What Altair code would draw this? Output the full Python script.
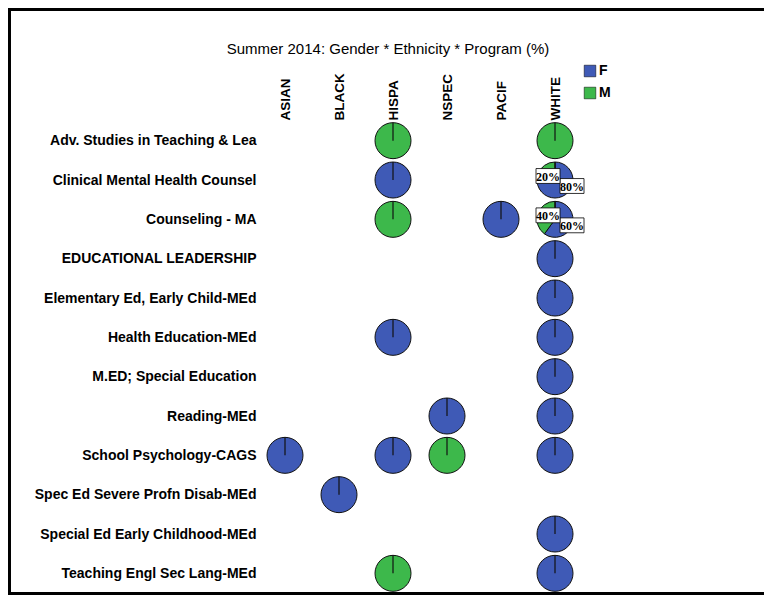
import altair as alt
import pandas as pd

programs = [
    "Adv. Studies in Teaching & Lea",
    "Clinical Mental Health Counsel",
    "Counseling - MA",
    "EDUCATIONAL LEADERSHIP",
    "Elementary Ed, Early Child-MEd",
    "Health Education-MEd",
    "M.ED; Special Education",
    "Reading-MEd",
    "School Psychology-CAGS",
    "Spec Ed Severe Profn Disab-MEd",
    "Special Ed Early Childhood-MEd",
    "Teaching Engl Sec Lang-MEd",
]
ethnicities = ["ASIAN", "BLACK", "HISPA", "NSPEC", "PACIF", "WHITE"]
genders = ["F", "M"]
gender_colors = ["#3F5AB6", "#3DB84B"]

# one entry per pie slice: program, ethnicity, gender, percent
cell_program = [
    "Adv. Studies in Teaching & Lea", "Adv. Studies in Teaching & Lea",
    "Clinical Mental Health Counsel", "Clinical Mental Health Counsel", "Clinical Mental Health Counsel",
    "Counseling - MA", "Counseling - MA", "Counseling - MA", "Counseling - MA",
    "EDUCATIONAL LEADERSHIP",
    "Elementary Ed, Early Child-MEd",
    "Health Education-MEd", "Health Education-MEd",
    "M.ED; Special Education",
    "Reading-MEd", "Reading-MEd",
    "School Psychology-CAGS", "School Psychology-CAGS", "School Psychology-CAGS", "School Psychology-CAGS",
    "Spec Ed Severe Profn Disab-MEd",
    "Special Ed Early Childhood-MEd",
    "Teaching Engl Sec Lang-MEd", "Teaching Engl Sec Lang-MEd",
]
cell_ethnicity = [
    "HISPA", "WHITE",
    "HISPA", "WHITE", "WHITE",
    "HISPA", "PACIF", "WHITE", "WHITE",
    "WHITE",
    "WHITE",
    "HISPA", "WHITE",
    "WHITE",
    "NSPEC", "WHITE",
    "ASIAN", "HISPA", "NSPEC", "WHITE",
    "BLACK",
    "WHITE",
    "HISPA", "WHITE",
]
cell_gender = [
    "M", "M",
    "F", "F", "M",
    "M", "F", "F", "M",
    "F",
    "F",
    "F", "F",
    "F",
    "F", "F",
    "F", "F", "M", "F",
    "F",
    "F",
    "M", "F",
]
cell_pct = [
    100, 100,
    100, 80, 20,
    100, 100, 60, 40,
    100,
    100,
    100, 100,
    100,
    100, 100,
    100, 100, 100, 100,
    100,
    100,
    100, 100,
]

df = pd.DataFrame({
    "program": cell_program,
    "ethnicity": cell_ethnicity,
    "gender": cell_gender,
    "pct": cell_pct,
})

W, H = 324, 472
FONT = "Liberation Sans"

x_enc = alt.X("ethnicity:N", sort=ethnicities, scale=alt.Scale(domain=ethnicities),
              axis=alt.Axis(orient="top", labelAngle=-90, title=None, domain=False, ticks=False,
                            labelFont=FONT, labelFontSize=13.5, labelFontWeight="bold",
                            labelColor="black", labelPadding=1))
y_enc = alt.Y("program:N", sort=programs, scale=alt.Scale(domain=programs),
              axis=alt.Axis(title=None, domain=False, ticks=False, labelFont=FONT,
                            labelFontSize=14, labelFontWeight="bold", labelColor="black",
                            labelPadding=2, labelLimit=400))

base = alt.Chart(df).transform_joinaggregate(
    total="sum(pct)", groupby=["program", "ethnicity"]
).transform_window(
    cum="sum(pct)", sort=[alt.SortField("gender", order="ascending")],
    groupby=["program", "ethnicity"], frame=[None, 0]
).transform_calculate(
    t0="2*PI*(datum.cum - datum.pct)/datum.total",
    t1="2*PI*datum.cum/datum.total",
    label="datum.pct + '%'",
)

pies = base.mark_arc(radius=18, stroke="#111111", strokeWidth=1).encode(
    x=x_enc, y=y_enc,
    theta=alt.Theta("t0:Q", scale=None),
    theta2=alt.Theta2("t1:Q"),
    color=alt.Color("gender:N", scale=alt.Scale(domain=genders, range=gender_colors),
                    legend=alt.Legend(title=None, orient="none", legendX=325, legendY=-57,
                                      symbolType="square", symbolSize=135,
                                      symbolStrokeColor="black", symbolStrokeWidth=0.5,
                                      symbolOpacity=1,
                                      labelFont=FONT, labelFontSize=14, labelFontWeight="bold",
                                      labelColor="black", rowPadding=8, labelOffset=2)),
)

# radial start line at 12 o'clock
start_line = base.transform_filter("datum.cum - datum.pct == 0").mark_point(
    shape="M0,-1L0,0", size=1296, stroke="#111111", strokeWidth=1.2, filled=False, opacity=1
).encode(x=x_enc, y=y_enc)

mixed = base.transform_filter("datum.pct < 100")

BOX = "M-1,-0.62H1V0.62H-1Z"
box_f = mixed.transform_filter("datum.gender == 'F'").mark_point(
    shape=BOX, size=576, filled=True, fill="white", stroke="black",
    strokeWidth=0.8, opacity=1, xOffset=17, yOffset=6
).encode(x=x_enc, y=y_enc)
box_m = mixed.transform_filter("datum.gender == 'M'").mark_point(
    shape=BOX, size=576, filled=True, fill="white", stroke="black",
    strokeWidth=0.8, opacity=1, xOffset=-7, yOffset=-4
).encode(x=x_enc, y=y_enc)
txt_f = mixed.transform_filter("datum.gender == 'F'").mark_text(
    font="Liberation Serif", fontSize=12, fontWeight="bold", color="black",
    xOffset=17, yOffset=6.5, baseline="middle", align="center"
).encode(x=x_enc, y=y_enc, text="label:N")
txt_m = mixed.transform_filter("datum.gender == 'M'").mark_text(
    font="Liberation Serif", fontSize=12, fontWeight="bold", color="black",
    xOffset=-7, yOffset=-3.5, baseline="middle", align="center"
).encode(x=x_enc, y=y_enc, text="label:N")

# page frame (top, left, bottom) drawn as thin bar symbols, no x2/y2 channels
frame_data = alt.Data(values=[{"k": 1}])
HBAR = "M-1,-0.004H1V0.004H-1Z"   # 756 px wide, 3 px tall at size 756^2
VBAR = "M-0.0051,-1H0.0051V1H-0.0051Z"  # 3 px wide, 587 px tall at size 587^2
top_border = alt.Chart(frame_data).mark_point(
    shape=HBAR, size=756 * 756, filled=True, color="black", opacity=1
).encode(x=alt.value(128), y=alt.value(-111.5))
bottom_border = alt.Chart(frame_data).mark_point(
    shape=HBAR, size=756 * 756, filled=True, color="black", opacity=1
).encode(x=alt.value(128), y=alt.value(472.5))
left_border = alt.Chart(frame_data).mark_point(
    shape=VBAR, size=587 * 587, filled=True, color="black", opacity=1
).encode(x=alt.value(-248.5), y=alt.value(180.5))

chart = alt.layer(
    pies, start_line, box_f, box_m, txt_f, txt_m, top_border, bottom_border, left_border
).properties(
    width=W, height=H,
    autosize="none",
    padding={"left": 250, "top": 113, "right": 182, "bottom": 2},
    title=alt.TitleParams("Summer 2014: Gender * Ethnicity * Program (%)", font=FONT,
                          fontSize=15, fontWeight="normal", color="black",
                          anchor="middle", frame="group", dx=-32, dy=63, offset=14),
).configure(background="white", view=alt.ViewConfig(stroke=None))

chart.save("out.html", embed_options={"renderer": "svg", "actions": False})
